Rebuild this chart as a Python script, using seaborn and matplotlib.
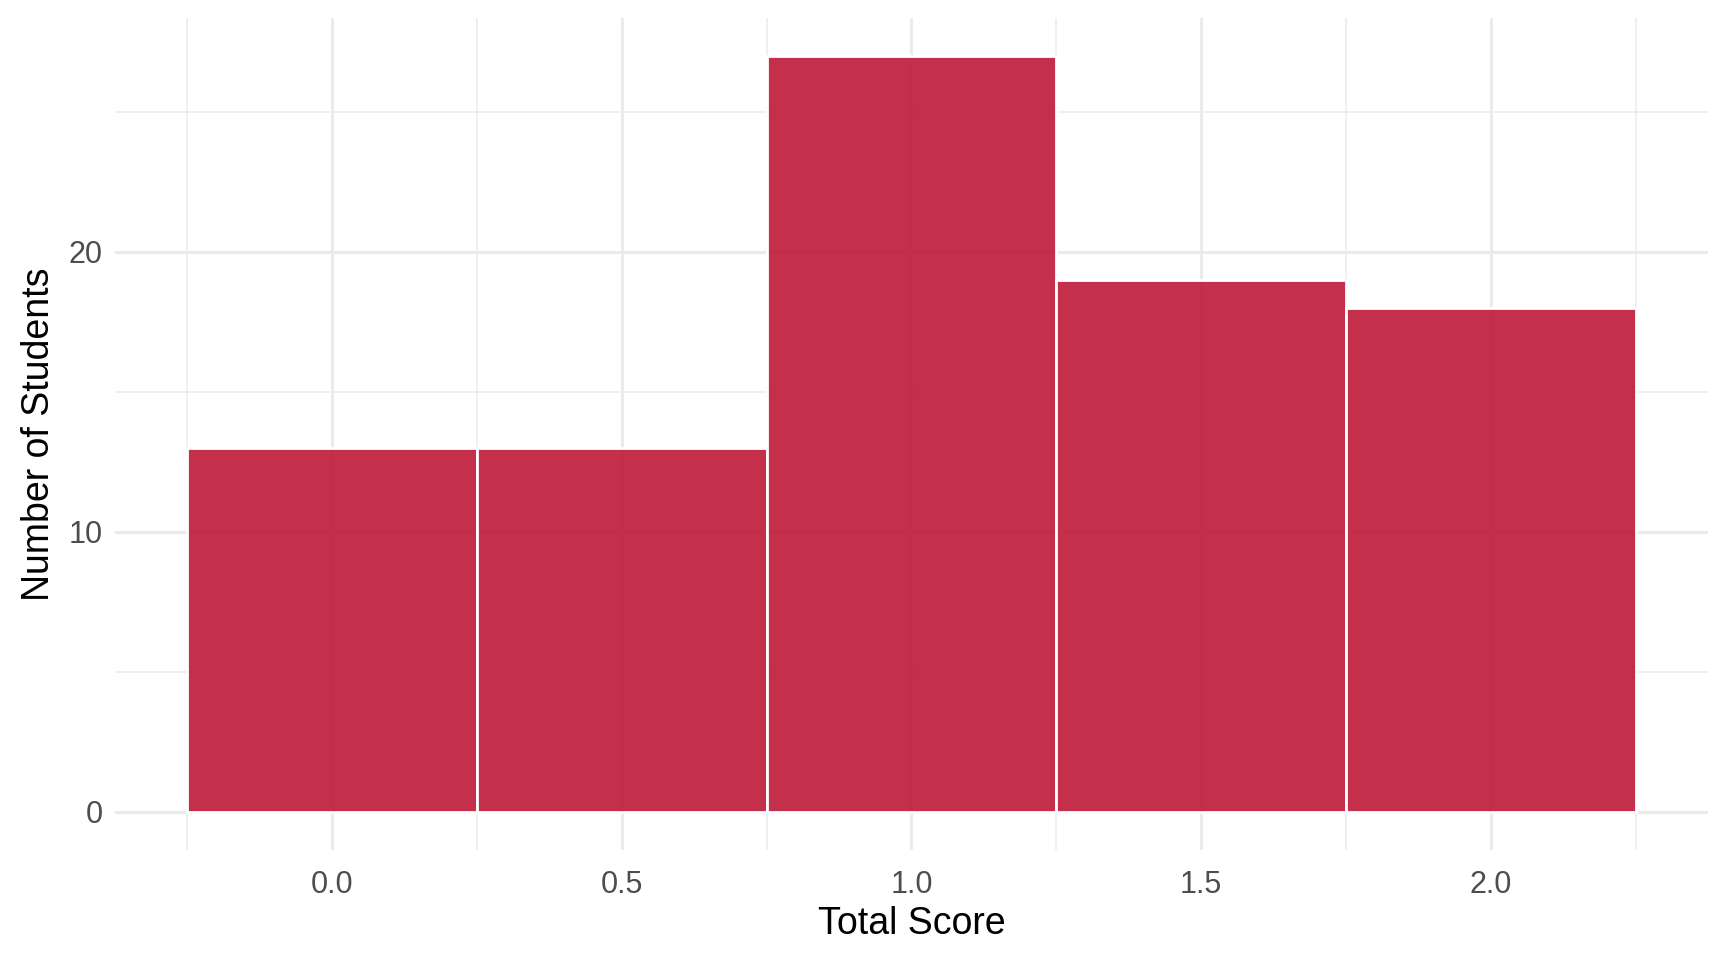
import numpy as np
import pandas as pd
import matplotlib
matplotlib.use("Agg")
import matplotlib.pyplot as plt
import seaborn as sns
from matplotlib.ticker import MultipleLocator

# data
scores = [0.0, 0.5, 1.0, 1.5, 2.0]
counts = [13, 13, 27, 19, 18]
x_ticks = [0.0, 0.5, 1.0, 1.5, 2.0]
x_tick_labels = ["0.0", "0.5", "1.0", "1.5", "2.0"]
y_ticks = [0, 10, 20]

df = pd.DataFrame({"score": scores, "n": counts})

sns.set_theme(style="white")
plt.rcParams["font.family"] = ["Liberation Sans", "DejaVu Sans"]

fig, ax = plt.subplots(figsize=(17.28, 9.6), dpi=100)
fig.subplots_adjust(left=0.0665, right=0.9884, top=0.981, bottom=0.115)

sns.histplot(data=df, x="score", weights="n", binwidth=0.5,
             binrange=(-0.25, 2.25), color="#BE1938", alpha=0.9,
             edgecolor="white", linewidth=2, ax=ax, zorder=3)

# ggplot-ish minimal grid
ax.set_xticks(x_ticks)
ax.set_xticklabels(x_tick_labels)
ax.set_yticks(y_ticks)
ax.set_xticks([-0.25, 0.25, 0.75, 1.25, 1.75, 2.25], minor=True)
ax.yaxis.set_minor_locator(MultipleLocator(5))
ax.grid(which="major", color="#EBEBEB", linewidth=2.2, zorder=0)
ax.grid(which="minor", color="#EBEBEB", linewidth=1.1, zorder=0)
ax.set_axisbelow(True)
for s in ax.spines.values():
    s.set_visible(False)
ax.tick_params(which="both", length=0)
ax.tick_params(axis="x", labelsize=22, labelcolor="#4D4D4D", pad=15)
ax.tick_params(axis="y", labelsize=22, labelcolor="#4D4D4D", pad=9)

ax.set_xlim(-0.375, 2.375)
ax.set_ylim(-1.35, 28.35)
ax.set_xlabel("Total Score", fontsize=27, color="black", labelpad=4)
ax.set_ylabel("Number of Students", fontsize=27, color="black", labelpad=8)

plt.savefig("out.png", dpi=100)
plt.close()
